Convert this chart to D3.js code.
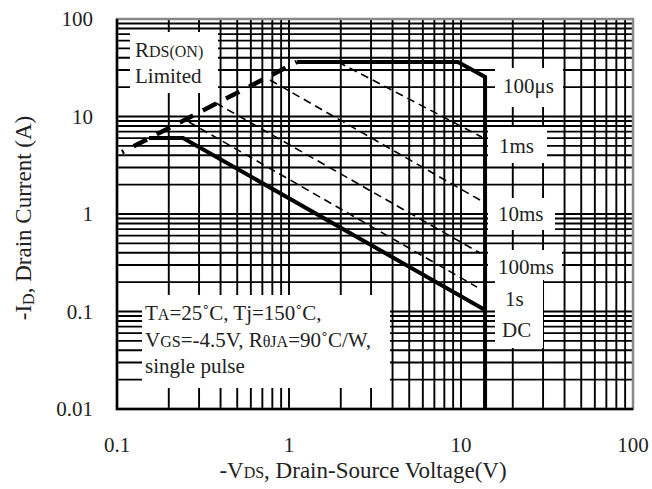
<!DOCTYPE html>
<html lang="en">
<head>
    <meta charset="UTF-8">
    <title>Safe Operating Area</title>
    <script src="https://d3js.org/d3.v7.min.js"></script>
    <style>
        body {
            margin: 0;
            background: #fff;
        }
        text {
            font-family: "Liberation Serif", "Times New Roman", serif;
            fill: #222;
        }
    </style>
</head>
<body>
    <script>
        // axis ticks
        const vdsTicks = [0.1, 1, 10, 100];
        const idTicks = [0.01, 0.1, 1, 10, 100];

        // limit curves (V, A)
        const rdsV = [0.107, 1.11];
        const rdsI = [4.3, 36.2];
        const us100V = [1.11, 9.6, 13.8, 13.8];
        const us100I = [36.2, 36.2, 25.4, 0.01];
        const ms1V = [1.93, 13.2];
        const ms1I = [36.2, 6.16];
        const ms10V = [0.775, 12.9];
        const ms10I = [23.7, 1.39];
        const ms100V = [0.376, 12.9];
        const ms100I = [13.75, 0.398];
        const s1V = [0.262, 12.4];
        const s1I = [8.78, 0.178];
        const dcV = [0.1535, 0.242, 13.8];
        const dcI = [6.03, 6.03, 0.1036];

        const width = 652, height = 489;
        const pL = 117, pR = 633, pT = 19, pB = 409;
        const fs = 21, small = 16, titleFs = 23;

        const svg = d3.select("body").append("svg")
            .attr("width", width)
            .attr("height", height);

        const x = d3.scaleLog().domain([0.1, 100]).range([pL, pR]);
        const y = d3.scaleLog().domain([0.01, 100]).range([pB, pT]);

        // grid, every 1..9 per decade
        const grid = svg.append("g").attr("stroke", "#000").attr("stroke-width", 1.9);
        grid.selectAll(".vx")
            .data(x.ticks().filter(d => d > 0.1 && d < 100))
            .enter().append("line")
            .attr("x1", d => x(d)).attr("x2", d => x(d))
            .attr("y1", pT).attr("y2", pB);
        grid.selectAll(".hy")
            .data(y.ticks().filter(d => d > 0.01 && d < 100))
            .enter().append("line")
            .attr("y1", d => y(d)).attr("y2", d => y(d))
            .attr("x1", pL).attr("x2", pR);

        // white label boxes cut the grid
        const boxes = [
            [130, 32, 88, 61],
            [495, 68, 68, 39],
            [488, 127, 59, 36],
            [488, 198, 67, 32],
            [488, 250, 74, 30],
            [495, 280, 48, 68],
            [142, 295, 248, 93]
        ];
        svg.selectAll(".box")
            .data(boxes)
            .enter().append("rect")
            .attr("x", d => d[0]).attr("y", d => d[1])
            .attr("width", d => d[2]).attr("height", d => d[3])
            .attr("fill", "#fff");

        // frame
        svg.append("rect")
            .attr("x", pL).attr("y", pT)
            .attr("width", pR - pL).attr("height", pB - pT)
            .attr("fill", "none").attr("stroke", "#888").attr("stroke-width", 2.5);
        svg.append("path")
            .attr("d", `M${pL},${pT}V${pB}H${pR}`)
            .attr("fill", "none").attr("stroke", "#000").attr("stroke-width", 2.5);

        const line = d3.line().x(d => x(d[0])).y(d => y(d[1]));
        const curve = (vs, is, w, dash, offset) => {
            svg.append("path")
                .datum(d3.zip(vs, is))
                .attr("d", line)
                .attr("fill", "none")
                .attr("stroke", "#000")
                .attr("stroke-width", w)
                .attr("stroke-dasharray", dash)
                .attr("stroke-dashoffset", offset || 0);
        };
        curve(ms1V, ms1I, 1.6, "8,5");
        curve(ms10V, ms10I, 1.6, "8,5");
        curve(ms100V, ms100I, 1.6, "8,5");
        curve(s1V, s1I, 1.6, "8,5");
        curve(rdsV, rdsI, 4.5, "15,11", 13);
        curve(us100V, us100I, 4, null);
        curve(dcV, dcI, 4, null);

        // text pieces: [string, isSmall, dy]
        const rich = (tx, ty, parts, anchor, size) => {
            const big = size || fs;
            const t = svg.append("text")
                .attr("x", tx).attr("y", ty)
                .attr("font-size", big)
                .attr("text-anchor", anchor || "start");
            parts.forEach(p => {
                t.append("tspan")
                    .attr("font-size", p[1] ? small : big)
                    .attr("dy", p[2] || 0)
                    .text(p[0]);
            });
            return t;
        };

        rich(135, 57, [["R"], ["DS(ON)", true]]);
        rich(135, 83, [["Limited"]]);
        rich(503, 93, [["100μs"]]);
        rich(499, 153, [["1ms"]]);
        rich(498, 221, [["10ms"]]);
        rich(498, 274, [["100ms"]]);
        rich(505, 306, [["1s"]]);
        rich(502, 337, [["DC"]]);

        rich(145, 320, [["T"], ["A", true], ["=25˚C, Tj=150˚C,"]]);
        rich(145, 347, [["V"], ["GS", true], ["=-4.5V, R"], ["θJA", true], ["=90˚C/W,"]]);
        rich(145, 373, [["single pulse"]]);

        // tick labels
        svg.selectAll(".xt")
            .data(vdsTicks)
            .enter().append("text")
            .attr("x", d => x(d)).attr("y", 452)
            .attr("text-anchor", "middle")
            .attr("font-size", fs)
            .text(d => d);
        svg.selectAll(".yt")
            .data(idTicks)
            .enter().append("text")
            .attr("x", 93).attr("y", d => y(d) + 7)
            .attr("text-anchor", "end")
            .attr("font-size", fs)
            .text(d => d);

        // axis titles
        rich(363, 478, [["-V"], ["DS", true], [", Drain-Source Voltage(V)"]], "middle", titleFs);
        const yt = rich(0, 0, [["-I"], ["D", true, 3], [", Drain Current (A)", false, -3]], "middle", titleFs);
        yt.attr("transform", "translate(31,218) rotate(-90)");
    </script>
</body>
</html>
